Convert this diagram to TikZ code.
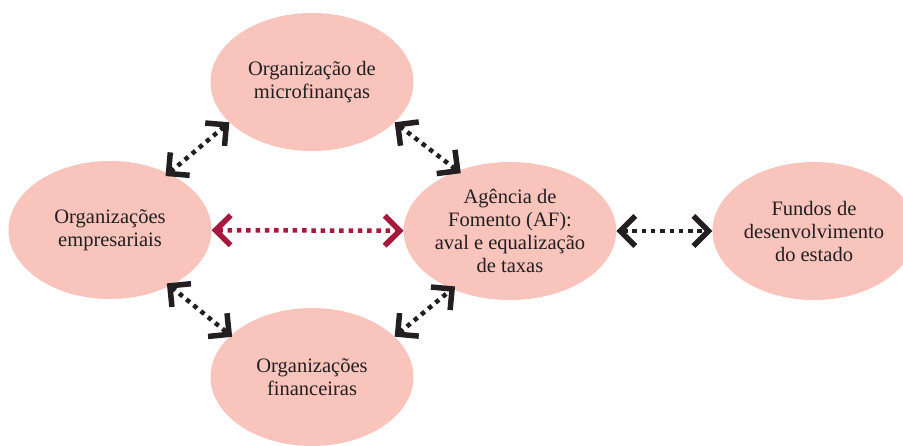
\documentclass[tikz,border=0pt]{standalone}
\usepackage{fontspec}
\setmainfont{Liberation Serif}
\usetikzlibrary{shapes.geometric,arrows.meta}
\definecolor{rosa}{HTML}{F8C4BC}
\definecolor{tinta}{HTML}{231F20}
\definecolor{vinho}{HTML}{A6193C}
\tikzstyle{org}=[ellipse, fill=rosa, minimum width = 203pt, minimum height = 138pt,
  inner sep = 0pt, align = center, text = tinta,
  font = \fontsize{20.5}{23}\selectfont]
\tikzstyle{troca}=[line width = 4.5pt, dash pattern = on 4.5pt off 4.8pt, draw = tinta,
  {Straight Barb[length=15pt, width=30pt, line width=5.5pt, sharp]}-{Straight Barb[length=15pt, width=30pt, line width=5.5pt, sharp]}]

\begin{document}
\begin{tikzpicture}[x = 1pt, y = -1pt]
\useasboundingbox (0,0) rectangle (903,445);
\draw (312,82) node[org](mic){Organização de\\microfinanças};
\draw (110,230) node[org](emp){Organizações\\empresariais};
\draw (510,231) node[org](af){Agência de\\Fomento (AF):\\aval e equalização\\de taxas};
\draw (814,231) node[org](fun){Fundos de\\desenvolvimento\\do estado};
\draw (312,377) node[org](fin){Organizações\\financeiras};
%
\draw[troca, shorten <= -4pt] (emp.44) -- (mic.206);
\draw[troca, shorten >= -4pt] (mic.334) -- (af.131);
\draw[troca, shorten <= -4pt, shorten >= -2pt] (emp.317) -- (fin.153);
\draw[troca, shorten >= -4pt] (fin.26) -- (af.225);
% Ligacao principal
\draw[troca, draw = vinho] (emp) -- (af);
\draw[troca] (af) -- (fun);
\end{tikzpicture}
\end{document}
